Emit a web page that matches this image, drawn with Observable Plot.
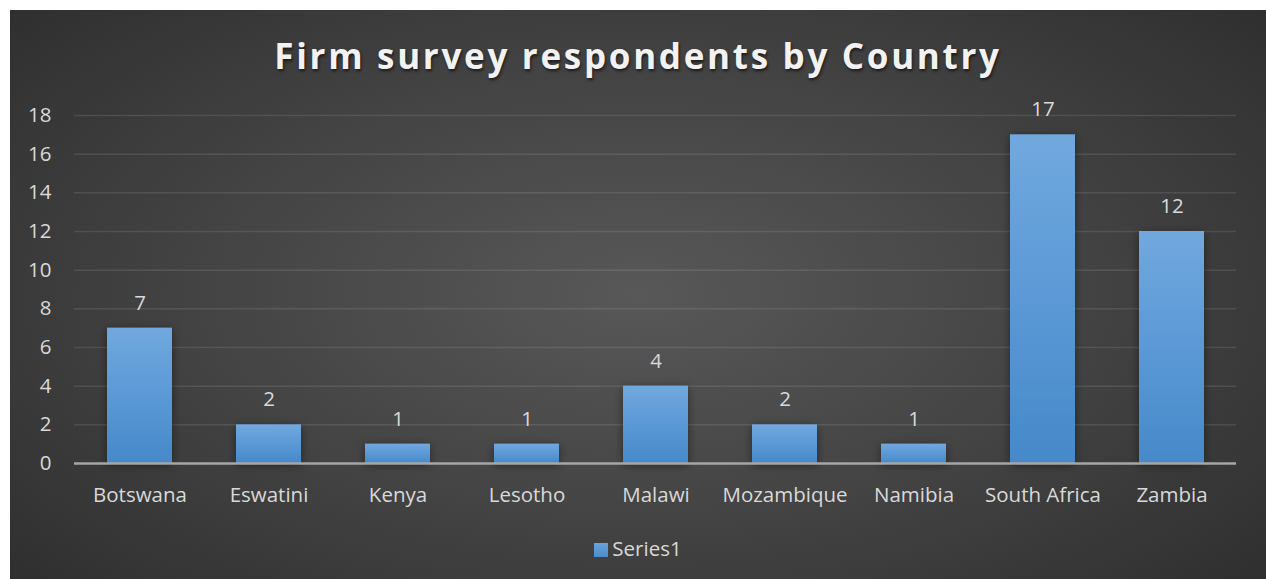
<!DOCTYPE html>
<html>
<head>
<meta charset="utf-8">
<script src="https://cdn.jsdelivr.net/npm/d3@7"></script>
<script src="https://cdn.jsdelivr.net/npm/@observablehq/plot@0.6"></script>
<style>
  html, body { margin: 0; padding: 0; background: #ffffff; }
  #chart {
    position: absolute; left: 10px; top: 10px; width: 1256px; height: 569px;
    background: radial-gradient(ellipse 75% 85% at 50% 50%, #585858 0%, #444444 45%, #2a2a2a 100%);
    font-family: "Open Sans", Lato, sans-serif; overflow: hidden;
  }
  #title {
    height: 80px; line-height: 80px; padding-top: 6px; box-sizing: border-box; text-align: center; color: #f2f2f2;
    font-size: 35px; font-weight: bold; letter-spacing: 2.7px;
    text-shadow: 1px 2px 3px rgba(0,0,0,0.6);
  }
  #legend {
    position: absolute; top: 524px; left: 0; width: 1256px; text-align: center;
    color: #d9d9d9; font-size: 20.5px;
  }
  #legend .sw { display: inline-block; width: 14px; height: 14px; margin-right: 4px; vertical-align: -1px;
    background: linear-gradient(#6aa3dc, #4a8bcb); }
  svg text { font-family: "Open Sans", Lato, sans-serif; }
</style>
</head>
<body>
<div id="chart">
  <div id="title">Firm survey respondents by Country</div>
  <div id="plot"></div>
  <div id="legend"><span class="sw"></span>Series1</div>
</div>
<script>
const countries = ["Botswana", "Eswatini", "Kenya", "Lesotho", "Malawi", "Mozambique", "Namibia", "South Africa", "Zambia"];
const respondents = [7, 2, 1, 1, 4, 2, 1, 17, 12];
const yTicks = [0, 2, 4, 6, 8, 10, 12, 14, 16, 18];
const seriesName = "Series1";

const data = countries.map((c, i) => ({country: c, value: respondents[i]}));

const plot = Plot.plot({
  width: 1256,
  height: 430,
  marginLeft: 64,
  marginRight: 30,
  marginTop: 25,
  marginBottom: 57,
  style: {background: "transparent", color: "#d9d9d9", fontSize: "20.5px", overflow: "visible"},
  x: {domain: countries, paddingInner: 0.5, paddingOuter: 0.25, label: null},
  y: {domain: [0, 18], label: null},
  marks: [
    () => {
      const ns = "http://www.w3.org/2000/svg";
      const defs = document.createElementNS(ns, "defs");
      defs.innerHTML = `
        <linearGradient id="barGrad" x1="0" y1="0" x2="0" y2="1" gradientUnits="objectBoundingBox">
          <stop offset="0" stop-color="#71a8de"/>
          <stop offset="0.5" stop-color="#5b99d6"/>
          <stop offset="1" stop-color="#4689c9"/>
        </linearGradient>
        <filter id="barShadow" x="-30%" y="-10%" width="160%" height="130%">
          <feDropShadow dx="0" dy="2" stdDeviation="5" flood-color="#000" flood-opacity="0.45"/>
        </filter>`;
      return defs;
    },
    Plot.gridY(yTicks.filter(d => d > 0), {stroke: "#ffffff", strokeOpacity: 0.1, strokeWidth: 1.5}),
    Plot.barY(data, {x: "country", y: "value", fill: "url(#barGrad)",
      render: (index, scales, values, dims, ctx, next) => {
        const g = next(index, scales, values, dims, ctx);
        g.setAttribute("filter", "url(#barShadow)");
        return g;
      }}),
    Plot.ruleY([0], {stroke: "#a6a6a6", strokeWidth: 2.5}),
    Plot.text(data, {x: "country", y: "value", text: d => String(d.value), dy: -25, fill: "#d9d9d9", fontSize: 20.5}),
    Plot.axisY({ticks: yTicks, tickSize: 0, tickPadding: 23, fontSize: 20.5, fill: "#d9d9d9"}),
    Plot.axisX({tickSize: 0, tickPadding: 24, fontSize: 20.5, fill: "#d9d9d9"})
  ]
});
document.getElementById("plot").appendChild(plot);
</script>
</body>
</html>
